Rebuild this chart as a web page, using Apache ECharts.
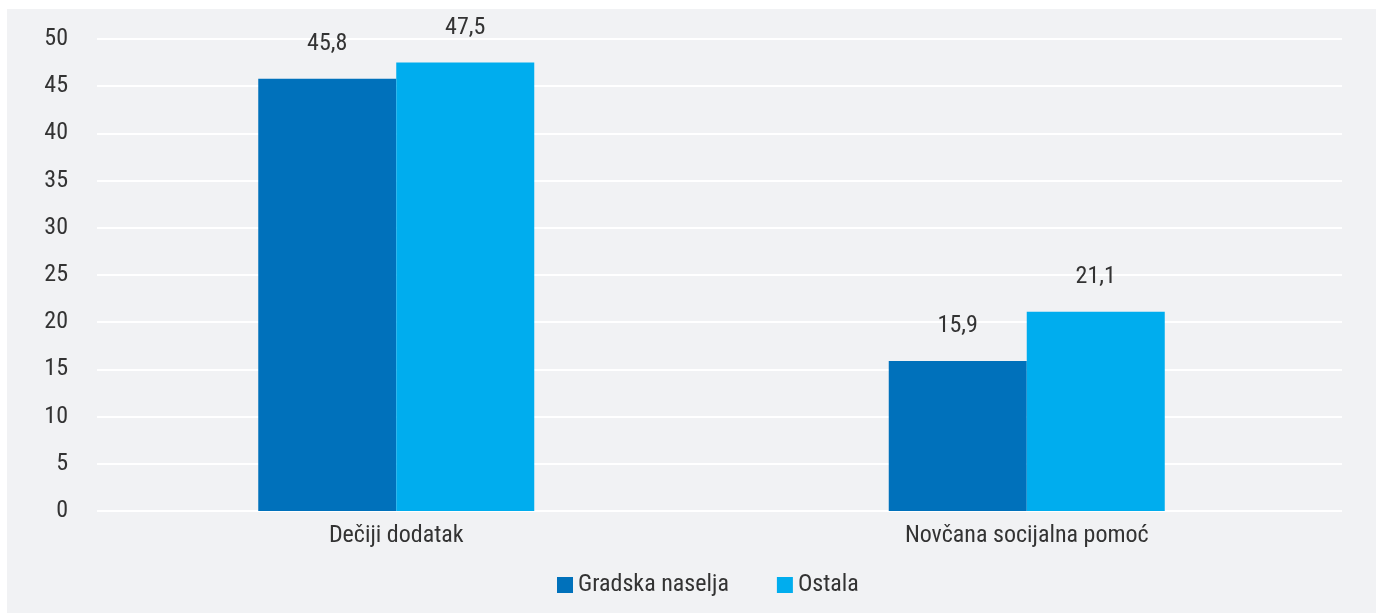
<!DOCTYPE html>
<html>
<head>
<meta charset="utf-8">
<script src="https://cdn.jsdelivr.net/npm/echarts@6/dist/echarts.min.js"></script>
<style>
html,body{margin:0;padding:0;background:#fff;}
#c{width:1380px;height:614px;}
</style>
</head>
<body>
<div id="c"></div>
<script>
const categories = ['Dečiji dodatak', 'Novčana socijalna pomoć'];
const seriesNames = ['Gradska naselja', 'Ostala'];
const gradska = [45.8, 15.9];
const ostala = [47.5, 21.1];
const yMin = 0, yMax = 50, yStep = 5;

const FONT = "'Liberation Sans Narrow', 'Roboto Condensed', 'DejaVu Sans Condensed', sans-serif";
const TXT = '#333333';
const FS = 24;
const fmt = v => String(v).replace('.', ',');

const chart = echarts.init(document.getElementById('c'), null, {renderer: 'canvas'});
chart.setOption({
  backgroundColor: '#ffffff',
  animation: false,
  textStyle: {fontFamily: FONT},
  graphic: [{
    type: 'rect', z: -10, silent: true,
    shape: {x: 7, y: 9, width: 1369, height: 604},
    style: {fill: '#f1f2f4'}
  }],
  grid: [
    {left: 81, right: 38, top: 39, height: 472},
    {left: 97, right: 38, top: 39, height: 472}
  ],
  legend: {
    left: 557, top: 573, padding: 0,
    itemWidth: 16, itemHeight: 16, itemGap: 48,
    icon: 'rect',
    textStyle: {fontFamily: FONT, fontSize: FS, color: TXT},
    data: seriesNames
  },
  xAxis: [
    {
      type: 'category', gridIndex: 0, data: categories,
      axisLine: {show: false}, axisTick: {show: false},
      axisLabel: {fontFamily: FONT, fontSize: FS, color: TXT, margin: 13}
    },
    {
      type: 'category', gridIndex: 1, data: categories, show: false
    }
  ],
  yAxis: [
    {
      type: 'value', gridIndex: 0, min: yMin, max: yMax, interval: yStep,
      show: false, splitLine: {show: false}
    },
    {
      type: 'value', gridIndex: 1, min: yMin, max: yMax, interval: yStep,
      axisLine: {show: false}, axisTick: {show: false},
      axisLabel: {fontFamily: FONT, fontSize: FS, color: TXT, margin: 29},
      splitLine: {show: true, lineStyle: {color: '#ffffff', width: 2}}
    }
  ],
  series: [
    {
      name: seriesNames[0], type: 'bar', xAxisIndex: 0, yAxisIndex: 0,
      data: gradska, barWidth: 138, barGap: '0%',
      itemStyle: {color: '#0071bb'},
      label: {show: true, position: 'top', distance: 23, fontFamily: FONT, fontSize: FS, color: TXT,
        formatter: p => fmt(p.value)}
    },
    {
      name: seriesNames[1], type: 'bar', xAxisIndex: 0, yAxisIndex: 0,
      data: ostala, barWidth: 138, barGap: '0%',
      itemStyle: {color: '#00adee'},
      label: {show: true, position: 'top', distance: 23, fontFamily: FONT, fontSize: FS, color: TXT,
        formatter: p => fmt(p.value)}
    }
  ]
});
</script>
</body>
</html>
